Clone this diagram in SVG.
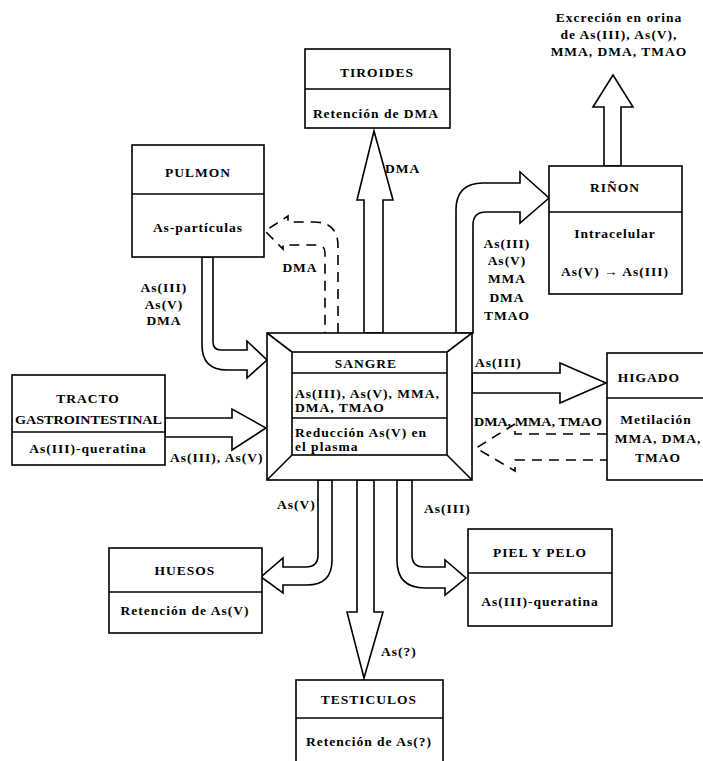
<svg xmlns="http://www.w3.org/2000/svg" width="703" height="761" viewBox="0 0 703 761">
<style>
.box{fill:#fff;stroke:#000;stroke-width:1.6}
.ln{fill:none;stroke:#000;stroke-width:1.6}
.arr{fill:#fff;stroke:#000;stroke-width:1.6;stroke-linejoin:miter}
.dash{fill:none;stroke:#000;stroke-width:1.6;stroke-dasharray:10 7}
text{font-family:"Liberation Serif","DejaVu Serif",serif;font-weight:bold;font-size:13.5px;letter-spacing:1px;fill:#000}
.c{text-anchor:middle}
.n{letter-spacing:0}
</style>
<rect width="703" height="761" fill="#fff"/>
<g id="connectors">
<path class="arr" d="M364,333 L364,200 L357,200 L374,131 L393,200 L383,200 L383,333 Z"/>
<path class="arr" d="M604,166 L604,107 L593,107 L613,75 L633,107 L621,107 L621,166 Z"/>
<path class="arr" d="M456,333 L456,210 Q456,183 483,183 L520,183 L520,172 L549,198 L520,223 L520,212 L486,212 Q473,212 473,225 L473,333 Z"/>
<path class="arr" d="M472,373 L560,373 L560,363 L606,383 L560,403 L560,393 L472,393 Z"/>
<path class="arr" d="M202,257 L202,345 Q202,370 227,370 L247,370 L247,378 L267,360 L247,341 L247,350 L221,350 Q213,350 213,342 L213,257 Z"/>
<path class="arr" d="M165,418 L232,418 L232,409 L266,428 L232,450 L232,437 L165,437 Z"/>
<path class="arr" d="M318,480 L318,555 Q318,567 306,567 L283,567 L283,558 L261,577 L283,593 L283,585 L307,585 Q332,585 332,560 L332,480 Z"/>
<path class="arr" d="M357,480 L357,612 L347,612 L364,678 L383,612 L374,612 L374,480 Z"/>
<path class="arr" d="M397,480 L397,560 Q397,588 425,588 L445,588 L445,595 L466,578 L445,560 L445,567 L424,567 Q412,567 412,555 L412,480 Z"/>
<path class="dash" d="M338,333 L338,246 Q338,222 314,222 L288,222 L288,216 L265,231 L283,249 L283,245 L317,245 Q325,245 325,253 L325,333"/>
<path class="dash" d="M607,434 L515,434 L515,424 L476,448 L515,471 L515,460 L607,460"/>
</g>
<g id="labels">
<text x="385" y="173">DMA</text>
<text class="c" x="300" y="272">DMA</text>
<text class="c" x="164" y="292">As(III)</text>
<text class="c" x="164" y="309">As(V)</text>
<text class="c" x="164" y="325">DMA</text>
<text class="c" x="507" y="248">As(III)</text>
<text class="c" x="507" y="265">As(V)</text>
<text class="c" x="507" y="283">MMA</text>
<text class="c" x="507" y="302">DMA</text>
<text class="c" x="507" y="320">TMAO</text>
<text x="475" y="367">As(III)</text>
<text class="n" x="474" y="426" textLength="128" lengthAdjust="spacingAndGlyphs">DMA, MMA, TMAO</text>
<text x="170" y="462">As(III), As(V)</text>
<text x="277" y="509">As(V)</text>
<text x="424" y="513">As(III)</text>
<text x="381" y="656">As(?)</text>
<text class="c" x="619" y="22">Excreción en orina</text>
<text class="c" x="619" y="39">de As(III), As(V),</text>
<text class="c" x="619" y="56">MMA, DMA, TMAO</text>
</g>
<g id="tiroides">
<rect class="box" x="305" y="49" width="145" height="79"/>
<line class="ln" x1="305" y1="89" x2="450" y2="89"/>
<text class="c" x="377" y="77">TIROIDES</text>
<text class="c" x="376" y="118">Retención de DMA</text>
</g>
<g id="pulmon">
<rect class="box" x="132" y="145" width="132" height="112"/>
<line class="ln" x1="132" y1="194" x2="264" y2="194"/>
<text class="c" x="198" y="177">PULMON</text>
<text class="c" x="198" y="232">As-partículas</text>
</g>
<g id="rinon">
<rect class="box" x="549" y="166" width="133" height="128"/>
<line class="ln" x1="549" y1="212" x2="682" y2="212"/>
<text class="c" x="615" y="192">RIÑON</text>
<text class="c" x="615" y="238">Intracelular</text>
<text class="c" x="615" y="276">As(V) → As(III)</text>
</g>
<g id="tracto">
<rect class="box" x="12" y="375" width="153" height="90"/>
<line class="ln" x1="12" y1="432" x2="165" y2="432"/>
<text class="c" x="88" y="403">TRACTO</text>
<text class="n" x="15" y="424" textLength="147" lengthAdjust="spacingAndGlyphs">GASTROINTESTINAL</text>
<text class="c" x="88" y="453">As(III)-queratina</text>
</g>
<g id="sangre">
<rect class="box" x="267" y="333" width="205" height="147"/>
<rect class="box" x="292" y="352" width="155" height="103"/>
<line class="ln" x1="267" y1="333" x2="292" y2="352"/>
<line class="ln" x1="472" y1="333" x2="447" y2="352"/>
<line class="ln" x1="267" y1="480" x2="292" y2="455"/>
<line class="ln" x1="472" y1="480" x2="447" y2="455"/>
<line class="ln" x1="292" y1="373" x2="447" y2="373"/>
<line class="ln" x1="292" y1="418" x2="447" y2="418"/>
<text class="c" x="366" y="368">SANGRE</text>
<text x="295" y="398">As(III), As(V), MMA,</text>
<text x="295" y="412">DMA, TMAO</text>
<text x="295" y="437">Reducción As(V) en</text>
<text x="295" y="451">el plasma</text>
</g>
<g id="higado">
<rect class="box" x="607" y="353" width="110" height="127"/>
<line class="ln" x1="607" y1="398" x2="717" y2="398"/>
<text class="c" x="649" y="382">HIGADO</text>
<text class="c" x="656" y="424">Metilación</text>
<text class="c" x="658" y="443">MMA, DMA,</text>
<text class="c" x="658" y="462">TMAO</text>
</g>
<g id="huesos">
<rect class="box" x="109" y="548" width="153" height="85"/>
<line class="ln" x1="109" y1="592" x2="262" y2="592"/>
<text class="c" x="185" y="575">HUESOS</text>
<text class="c" x="185" y="615">Retención de As(V)</text>
</g>
<g id="piel">
<rect class="box" x="468" y="529" width="144" height="97"/>
<line class="ln" x1="468" y1="573" x2="612" y2="573"/>
<text class="c" x="540" y="557">PIEL Y PELO</text>
<text class="c" x="540" y="606">As(III)-queratina</text>
</g>
<g id="testiculos">
<rect class="box" x="296" y="680" width="147" height="90"/>
<line class="ln" x1="296" y1="718" x2="443" y2="718"/>
<text class="c" x="369" y="704">TESTICULOS</text>
<text class="c" x="369" y="746">Retención de As(?)</text>
</g>
</svg>
